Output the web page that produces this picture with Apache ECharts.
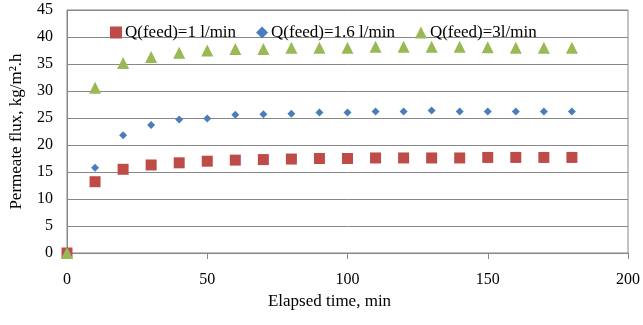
<!DOCTYPE html>
<html>
<head>
<meta charset="utf-8">
<script src="https://cdn.jsdelivr.net/npm/echarts@6/dist/echarts.min.js"></script>
<style>
html,body{margin:0;padding:0;background:#fff;}
#main{width:643px;height:325px;}
</style>
</head>
<body>
<div id="main"></div>
<script>
// elapsed time, min
var times=[0,10,20,30,40,50,60,70,80,90,100,110,120,130,140,150,160,170,180];
// permeate flux, kg/m2.h
var flux1=[0,13.2,15.5,16.3,16.7,17.0,17.2,17.3,17.4,17.5,17.5,17.6,17.6,17.6,17.6,17.7,17.7,17.7,17.7];
var flux16=[0,15.8,21.8,23.7,24.7,24.9,25.6,25.7,25.8,26.0,26.0,26.2,26.2,26.4,26.2,26.2,26.2,26.2,26.2];
var flux3=[0,30.6,35.2,36.3,37.1,37.5,37.8,37.8,38.0,38.0,38.0,38.2,38.2,38.2,38.2,38.1,38.0,38.0,38.0];
var names=['Q(feed)=1 l/min','Q(feed)=1.6 l/min','Q(feed)=3l/min'];

function pairs(ys){
	var out=[];
	for(var i=0;i<times.length;i++){ out.push([times[i],ys[i]]) }
	return out;
}
var font='"Liberation Serif","Times New Roman",serif';
var myChart=echarts.init(document.getElementById('main'));
var option={
	animation:false,
	textStyle:{fontFamily:font,color:'#000'},
	grid:{left:67,right:13,top:10,bottom:72,show:true,borderColor:'#868686',borderWidth:1},
	legend:{
		left:105,top:19,itemGap:20,itemWidth:12,itemHeight:12,
		textStyle:{fontFamily:font,fontSize:17,color:'#000',padding:[0,0,0,-2]},
		data:[
			{name:names[0],icon:'rect'},
			{name:names[1],icon:'diamond',itemStyle:{}},
			{name:names[2],icon:'triangle'}
		]
	},
	xAxis:{
		type:'value',min:0,max:200,interval:50,
		name:'Elapsed time, min',nameLocation:'middle',nameGap:39,
		nameTextStyle:{fontFamily:font,fontSize:17,color:'#000',padding:[0,36,0,0]},
		axisLine:{lineStyle:{color:'#868686'}},
		axisTick:{show:true,length:6,lineStyle:{color:'#868686'}},
		axisLabel:{fontFamily:font,fontSize:16,color:'#000',margin:19},
		splitLine:{show:false}
	},
	yAxis:{
		type:'value',min:0,max:45,interval:5,
		name:'Permeate flux, kg/m².h',nameLocation:'middle',nameGap:42,
		nameTextStyle:{fontFamily:font,fontSize:17,color:'#000'},
		axisLine:{show:true,lineStyle:{color:'#868686'}},
		axisTick:{show:false},
		axisLabel:{fontFamily:font,fontSize:16,color:'#000',margin:14},
		splitLine:{show:true,lineStyle:{color:'#868686'}}
	},
	series:[
		{name:names[0],type:'scatter',symbol:'rect',symbolSize:11,itemStyle:{color:'#BE4B48',opacity:1},data:pairs(flux1)},
		{name:names[1],type:'scatter',symbol:'diamond',symbolSize:8,itemStyle:{color:'#4A7EBB',opacity:1},data:pairs(flux16)},
		{name:names[2],type:'scatter',symbol:'triangle',symbolSize:12,itemStyle:{color:'#98B954',opacity:1},data:pairs(flux3)}
	]
};
myChart.setOption(option);
</script>
</body>
</html>
